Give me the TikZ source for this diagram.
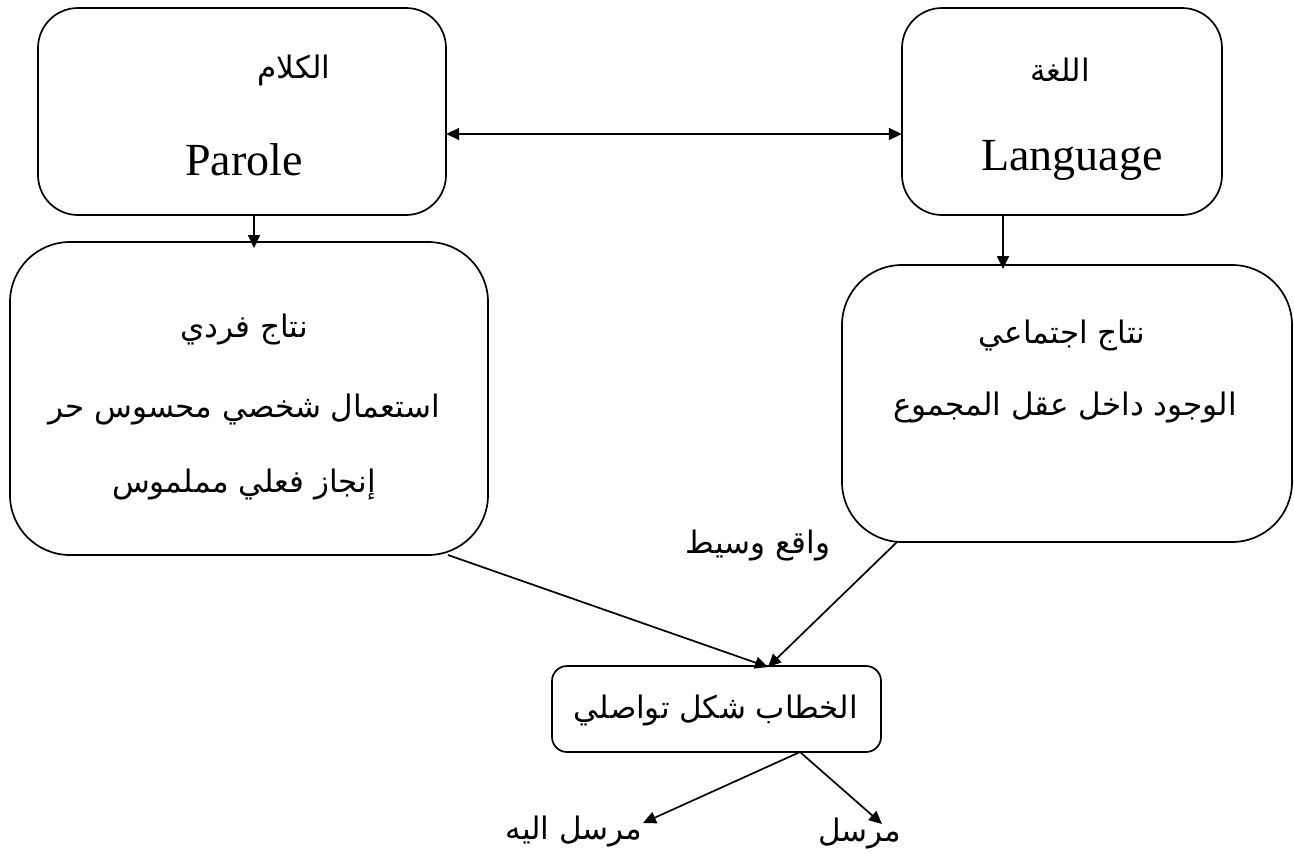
\documentclass[tikz,border=0pt]{standalone}
\usepackage{fontspec}
\setmainfont{Liberation Serif}
\newfontfamily\arabicfont[Script=Arabic]{DejaVu Sans}
\TeXXeTstate=1
\usetikzlibrary{arrows.meta}
\newcommand{\ar}[1]{{\arabicfont\beginR #1\endR}}
\begin{document}
\begin{tikzpicture}[x=1pt,y=-1pt,
  box/.style={draw,line width=1.7pt},
  tip/.style={},
  conn/.style={line width=1.7pt,-{Triangle[length=13pt,width=12pt]}},
  atext/.style={font=\fontsize{31}{36}\selectfont,inner sep=0pt},
  ltext/.style={font=\fontsize{46}{52}\selectfont,inner sep=0pt}]
\useasboundingbox (0,0) rectangle (1294,854);
% boxes
\draw[box,rounded corners=40pt] (38,8) rectangle (446,215);
\node[inner sep=0pt,minimum width=408pt,minimum height=207pt] (parole) at (242,111.5) {};
\draw[box,rounded corners=40pt] (902,8) rectangle (1222,215);
\node[inner sep=0pt,minimum width=320pt,minimum height=207pt] (lang) at (1062,111.5) {};
\draw[box,rounded corners=60pt] (10,242) rectangle (488,555);
\node[inner sep=0pt,minimum width=478pt,minimum height=313pt] (indiv) at (249,398.5) {};
\draw[box,rounded corners=60pt] (842,265) rectangle (1292,542);
\node[inner sep=0pt,minimum width=450pt,minimum height=277pt] (social) at (1067,403.5) {};
\draw[box,rounded corners=15pt] (552,666) rectangle (881,752);
\node[inner sep=0pt,minimum width=329pt,minimum height=86pt] (disc) at (716.5,709) {};
% texts
\node[atext] (t1) at (294,70) {\ar{الكلام}};
\node[ltext] (t2) at (244,160) {Parole};
\node[atext] (t3) at (1060,70) {\ar{اللغة}};
\node[ltext] (t4) at (1072,160) {Language};
\node[atext] (t5) at (244,330) {\ar{نتاج فردي}};
\node[atext] (t6) at (244,410) {\ar{استعمال شخصي محسوس حر}};
\node[atext] (t7) at (244,485) {\ar{إنجاز فعلي مملموس}};
\node[atext] (t8) at (1062,336) {\ar{نتاج اجتماعي}};
\node[atext] (t9) at (1065,408) {\ar{الوجود داخل عقل المجموع}};
\node[atext] (t10) at (758,546) {\ar{واقع وسيط}};
\node[atext] (t11) at (716,710) {\ar{الخطاب شكل تواصلي}};
\node[atext] (r1) at (574,831) {\ar{مرسل اليه}};
\node[atext] (r2) at (860,833) {\ar{مرسل}};
% connectors
\coordinate (pb) at (254,215);
\coordinate (ib) at (254,248);
\coordinate (lb) at (1003,215);
\coordinate (sb) at (1003,269);
\draw[line width=1.7pt,{Triangle[length=13pt,width=12pt]}-{Triangle[length=13pt,width=12pt]}] (parole.east |- 0,134) -- (lang.west |- 0,134);
\draw[conn] (pb) -- (ib);
\draw[conn] (lb) -- (sb);
\coordinate (ia) at (448,555);
\coordinate (sa) at (897,542);
\coordinate (dt) at (768,667);
\draw[conn] (ia) -- (dt);
\draw[conn] (sa) -- (dt);
\coordinate (db) at (800,752);
\coordinate (ra) at (643,823);
\coordinate (rb) at (882,824);
\draw[conn] (db) -- (ra);
\draw[conn] (db) -- (rb);
\end{tikzpicture}
\end{document}
